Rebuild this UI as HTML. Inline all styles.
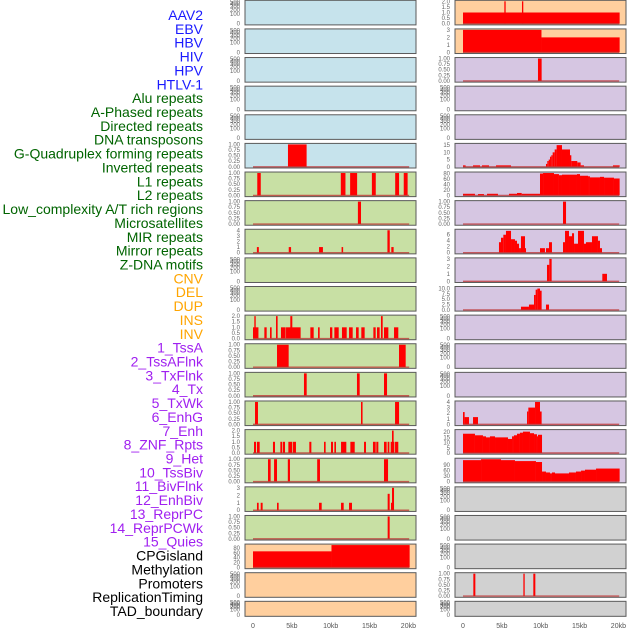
<!DOCTYPE html>
<html><head><meta charset="utf-8"><style>
html,body{margin:0;padding:0;background:#fff;}
svg{display:block;font-family:"Liberation Sans",sans-serif;}
</style></head><body>
<svg id="chart" width="630" height="630" viewBox="0 0 630 630" xmlns="http://www.w3.org/2000/svg"></svg>
<script>
// ---- labels ----
const trackLabels = ["AAV2","EBV","HBV","HIV","HPV","HTLV-1","Alu repeats","A-Phased repeats","Directed repeats","DNA transposons","G-Quadruplex forming repeats","Inverted repeats","L1 repeats","L2 repeats","Low_complexity A/T rich regions","Microsatellites","MIR repeats","Mirror repeats","Z-DNA motifs","CNV","DEL","DUP","INS","INV","1_TssA","2_TssAFlnk","3_TxFlnk","4_Tx","5_TxWk","6_EnhG","7_Enh","8_ZNF_Rpts","9_Het","10_TssBiv","11_BivFlnk","12_EnhBiv","13_ReprPC","14_ReprPCWk","15_Quies","CPGisland","Methylation","Promoters","ReplicationTiming","TAD_boundary"];
const labelGroups = ["virus","virus","virus","virus","virus","virus","repeat","repeat","repeat","repeat","repeat","repeat","repeat","repeat","repeat","repeat","repeat","repeat","repeat","sv","sv","sv","sv","sv","chrom","chrom","chrom","chrom","chrom","chrom","chrom","chrom","chrom","chrom","chrom","chrom","chrom","chrom","chrom","other","other","other","other","other"];
const xTickValues = [0,5,10,15,20];
const xTickLabels = ["0","5kb","10kb","15kb","20kb"];
// ---- tick sets ----
const ticksEmpty = ["0","100","200","300","400","500"];
const ticks01 = ["0.00","0.25","0.50","0.75","1.00"];
const ticks02 = ["0.0","0.5","1.0","1.5","2.0"];
const ticks04 = ["0","1","2","3","4"];
const ticks03 = ["0","1","2","3"];
const ticks80 = ["0","20","40","60","80"];
// ---- bar data [startKb, endKb, value] ----
const barsHTLV = [[4.5,6.9,1]];
const barsL6 = [[0.55,1.0,1],[11.3,11.9,1],[12.5,13.4,1],[15.3,15.8,1],[18.3,18.8,1],[19.4,19.9,1]];
const barsL7 = [[13.5,13.9,1]];
const barsL8 = [[0.5,0.75,1],[4.6,4.9,1],[8.5,9.0,1],[11.4,11.6,1],[17.3,17.6,4],[17.8,18.1,1]];
const barsL11 = [[0,0.7,1],[0.17,0.35,2],[1.46,1.76,1],[2.19,2.4,1],[2.96,3.17,2],[3.6,4.2,1],[4.25,6.13,1],[4.8,5.06,2],[7.38,7.81,1],[8.37,8.58,1],[9.91,10.21,1],[10.47,11.03,1],[11.45,12.06,1],[12.36,12.83,1],[13.26,13.6,1],[13.94,14.37,1],[15.49,15.79,1],[15.96,16.3,1],[16.47,16.69,2],[16.86,17.42,1],[18.15,18.7,1]];
const barsL12 = [[3.09,4.59,1],[18.79,19.65,1]];
const barsL13 = [[6.56,6.91,1],[13.38,13.73,1],[16.86,17.25,1]];
const barsL14 = [[0.26,0.64,1],[13.9,14.1,1],[18.28,18.8,1]];
const barsL15 = [[0.13,0.39,1],[0.51,0.86,1],[2.57,2.83,1],[3.52,3.77,1],[3.86,4.12,1],[4.55,5.06,1],[5.15,5.53,1],[7.25,7.51,1],[9.14,9.35,1],[10.04,10.3,1],[10.47,10.68,1],[11.33,12.01,1],[12.53,13.09,1],[14.29,14.54,1],[15.44,15.79,1],[15.87,16.13,1],[16.86,17.2,1],[17.33,17.55,1],[17.72,18.19,1],[17.89,18.1,2],[18.28,18.7,1]];
const barsL16 = [[1.93,2.27,1],[2.71,3.09,1],[4.48,4.76,1],[8.26,8.62,1],[16.86,17.38,1]];
const barsL17 = [[0.51,0.73,1],[0.99,1.24,1],[3.09,3.3,1],[8.5,8.84,1],[11.33,11.67,1],[12.36,12.74,1],[17.33,17.59,2.2],[17.76,17.89,1],[17.89,18.15,3]];
const barsL18 = [[17.33,17.59,1]];
const barsCPG = [[0,10.1,66],[10.1,20.16,95]];
const barsR0 = [[0,20.16,1],[5.32,5.49,2],[7.59,7.76,2]];
const barsR1 = [[0,10.1,3],[10.1,20.16,2]];
const barsR2 = [[9.65,10.12,1]];
const barsR5 = [[0,0.34,1],[1.29,2.19,1],[2.44,3.35,1],[4.25,6.18,1],[10.68,10.85,2],[10.85,11.03,4],[11.03,11.2,5],[11.2,11.37,7],[11.37,11.54,8],[11.54,11.8,10],[11.8,12.05,12],[12.05,12.74,15],[12.74,13.77,12],[13.77,13.94,8],[13.94,14.71,4],[14.71,15.14,3],[15.14,15.57,1],[19.3,20.16,1]];
const barsR6 = [[0,1.54,6],[1.93,2.7,5],[3.09,4.5,6],[5.92,6.95,6],[6.95,7.55,9],[7.55,9.91,6],[9.91,10.3,80],[10.3,11.71,82],[11.71,12.35,78],[12.35,12.74,74],[12.74,13.77,76],[13.77,14.67,76],[14.67,15.06,78],[15.06,16.09,72],[16.09,16.34,70],[16.34,17.63,66],[17.63,18.15,68],[18.15,19.43,65],[19.43,20.16,62]];
const barsR7 = [[12.87,13.26,1]];
const barsR8 = [[4.63,4.89,3.5],[4.89,5.19,5],[5.19,5.53,6],[5.53,6.18,7.3],[6.18,6.69,4.5],[6.69,6.95,4],[6.95,7.21,3],[7.21,7.46,1.5],[7.46,7.98,5.5],[7.98,8.11,1.5],[9.91,10.55,1.5],[10.68,11.07,1.5],[11.07,11.45,3.5],[12.87,13.13,3.5],[13.13,13.64,7.3],[13.64,14.03,5.5],[14.03,14.29,6.5],[14.29,14.8,3],[14.8,15.57,7.3],[15.57,15.83,3],[15.83,16.6,3.5],[16.6,17.37,5.5],[17.37,17.63,4],[17.63,17.89,1.5]];
const barsR9 = [[10.81,11.11,2.2],[11.11,11.41,3],[17.93,18.53,1]];
const barsR10 = [[7.46,8.49,1.5],[8.49,9.14,2.5],[9.14,9.35,7],[9.35,9.57,9.5],[9.57,9.91,10],[9.91,10.12,9],[10.68,11.07,2.5]];
const barsR14 = [[0,0.21,2.2],[0.21,0.77,1.3],[1.29,1.93,1.3],[8.24,8.41,2.3],[8.41,9.27,3],[9.27,9.91,4],[9.91,10.12,2.3]];
const barsR15 = [[0,1.54,18.5],[1.54,2.57,17],[2.57,2.96,16],[2.96,3.47,15],[3.47,4.12,16],[4.12,5.79,15],[5.79,6.31,13.5],[6.31,6.56,16],[6.56,6.95,17],[6.95,7.33,18.5],[7.33,7.72,19.5],[7.72,8.62,20.5],[8.62,9.14,19],[9.14,9.52,18],[9.52,9.65,16],[9.65,10.17,17.5]];
const barsR16 = [[0,2.32,115],[2.32,4.89,120],[4.89,6.69,115],[6.69,9.39,110],[9.39,10.17,105],[10.17,10.68,54],[10.68,11.2,49],[11.2,11.45,44],[11.45,11.84,49],[11.84,13.64,44],[13.64,14.54,49],[14.54,15.19,54],[15.19,15.7,59],[15.7,17.12,64],[17.12,20.16,70]];
const barsR20 = [[1.33,1.59,1],[7.77,7.94,1],[9.05,9.31,1]];

const C_BLUE="#c6e3ec", C_GREEN="#c8e0a4", C_PEACH="#ffcf9e", C_PURPLE="#d6c6e2", C_GREY="#d1d1d1";
// panels: [col,row,fill,ticks,ymax,bars]
const panels = [
 [0,0,C_BLUE,null,0,null],[0,1,C_BLUE,null,0,null],[0,2,C_BLUE,null,0,null],[0,3,C_BLUE,null,0,null],[0,4,C_BLUE,null,0,null],
 [0,5,C_BLUE,ticks01,1,barsHTLV],
 [0,6,C_GREEN,ticks01,1,barsL6],[0,7,C_GREEN,ticks01,1,barsL7],[0,8,C_GREEN,ticks04,4,barsL8],
 [0,9,C_GREEN,null,0,null],[0,10,C_GREEN,null,0,null],
 [0,11,C_GREEN,ticks02,2,barsL11],[0,12,C_GREEN,ticks01,1,barsL12],[0,13,C_GREEN,ticks01,1,barsL13],
 [0,14,C_GREEN,ticks01,1,barsL14],[0,15,C_GREEN,ticks02,2,barsL15],[0,16,C_GREEN,ticks01,1,barsL16],
 [0,17,C_GREEN,ticks03,3,barsL17],[0,18,C_GREEN,ticks01,1,barsL18],
 [0,19,C_PEACH,ticks80,91.6,barsCPG],[0,20,C_PEACH,null,0,null],[0,21,C_PEACH,null,0,null],
 [1,0,C_PEACH,ticks02,2,barsR0],[1,1,C_PEACH,ticks03,3,barsR1],
 [1,2,C_PURPLE,ticks01,1,barsR2],[1,3,C_PURPLE,null,0,null],[1,4,C_PURPLE,null,0,null],
 [1,5,C_PURPLE,["0","5","10","15"],15.5,barsR5],[1,6,C_PURPLE,ticks80,82,barsR6],
 [1,7,C_PURPLE,ticks01,1,barsR7],[1,8,C_PURPLE,["0","2","4","6"],7.5,barsR8],
 [1,9,C_PURPLE,ticks03,3,barsR9],[1,10,C_PURPLE,["0.0","2.5","5.0","7.5","10.0"],10.5,barsR10],
 [1,11,C_PURPLE,null,0,null],[1,12,C_PURPLE,null,0,null],[1,13,C_PURPLE,null,0,null],
 [1,14,C_PURPLE,ticks04,4,barsR14],[1,15,C_PURPLE,["0","5","10","15","20"],21.5,barsR15],
 [1,16,C_PURPLE,["0","30","60","90"],120,barsR16],
 [1,17,C_GREY,null,0,null],[1,18,C_GREY,null,0,null],[1,19,C_GREY,null,0,null],
 [1,20,C_GREY,ticks01,1,barsR20],[1,21,C_GREY,null,0,null]
];
const groupColor = {virus:"#1a1aff",repeat:"#006400",sv:"#ffa500",chrom:"#a020f0",other:"#000000"};

const NS="http://www.w3.org/2000/svg";
const svg=document.getElementById('chart');
function mk(tag,attrs,parent){const e=document.createElementNS(NS,tag);for(const k in attrs)e.setAttribute(k,attrs[k]);(parent||svg).appendChild(e);return e;}

// labels
trackLabels.forEach((t,i)=>{
  const el=mk('text',{x:203,y:20+13.86*i,'text-anchor':'end','font-size':'14',fill:groupColor[labelGroups[i]]});
  
  
  el.textContent=t;
});

function xScale(col,kb){return (col?455:245)+8+kb*7.77;}

panels.forEach((p,pi)=>{
  const [col,row,fill,ticks,ymax,bars]=p;
  const x0=col?455:245, w=171;
  const top=0.3+28.62*row, h=row===21?15:24.6;
  const g=mk('g',{});
  
  
  mk('rect',{x:x0,y:top,width:w,height:h,fill:fill,stroke:'#5a5a5a','stroke-width':1},g);
  const pTop=top+1, pBot=top+h-1.2, ph=pBot-pTop;
  let ys;
  const tl = ticks||ticksEmpty;
  if(ticks){ys=v=>pBot-ph*Math.min(v,ymax)/ymax;}
  else{ys=v=>pBot-ph*0.98*Math.sqrt(v/500);}
  tl.forEach(t=>{
    const tx=mk('text',{x:x0-5,y:ys(parseFloat(t))+2,'text-anchor':'end','font-size':'6',fill:'#666'},g);
    
    
    tx.textContent=t;
  });
  if(bars){
    bars.forEach(b=>{
      const xa=xScale(col,b[0]), xb=xScale(col,b[1]);
      const yt=ys(b[2]);
      const r=mk('rect',{x:xa,y:yt,width:Math.max(xb-xa,1),height:pBot-yt,fill:'#ff0000'},g);
      
      
    });
    const ln=mk('line',{x1:xScale(col,0),x2:xScale(col,20.1),y1:pBot,y2:pBot,stroke:'rgba(190,50,50,0.75)','stroke-width':1.4},g);
    
    
  }
});

[0,1].forEach(col=>{
  xTickValues.forEach((v,i)=>{
    const t=mk('text',{x:xScale(col,v),y:628,'text-anchor':'middle','font-size':'7',fill:'#555'});
    
    
    t.textContent=xTickLabels[i];
  });
});
</script>
</body></html>
